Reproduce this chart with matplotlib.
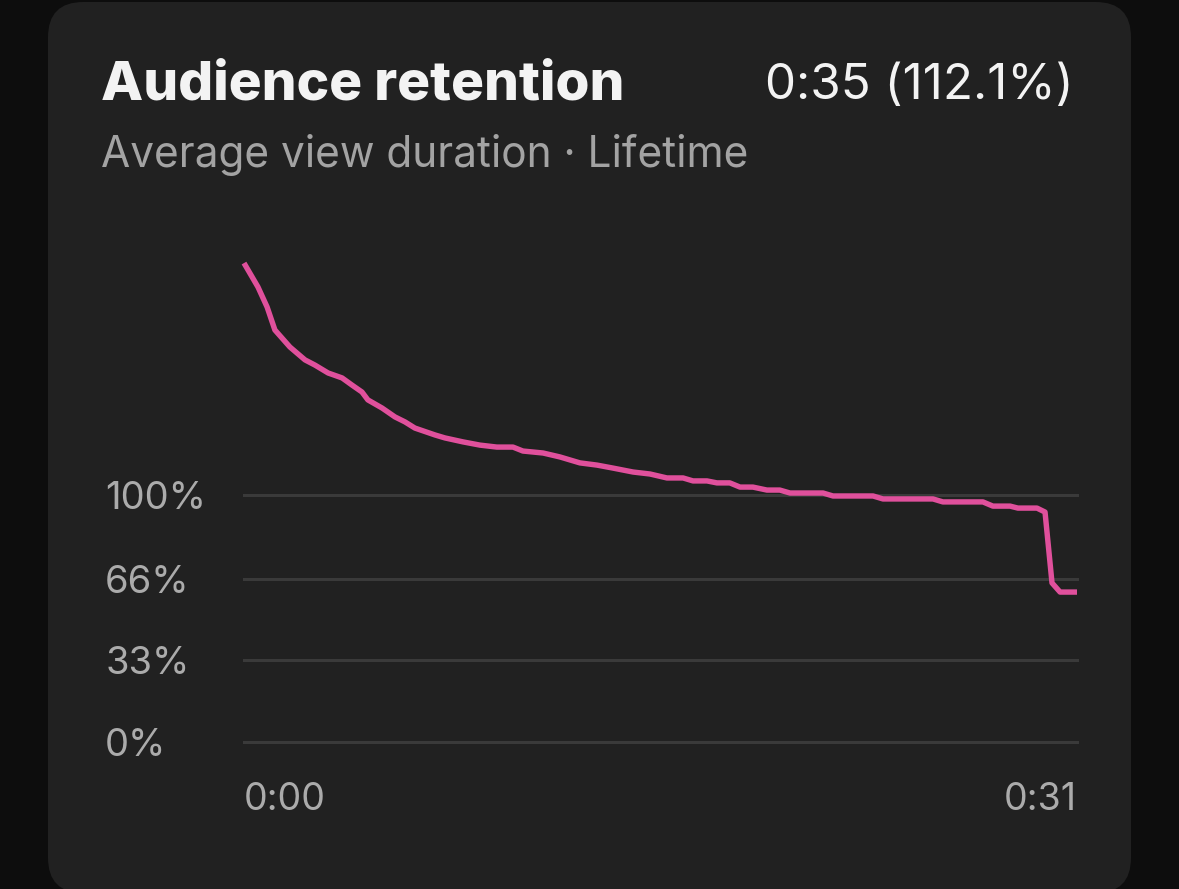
import matplotlib
matplotlib.use("Agg")
import matplotlib.pyplot as plt
from matplotlib.patches import FancyBboxPatch

# retention curve (seconds, % of viewers)
seconds = [0.00, 0.52, 0.86, 1.15, 1.71, 2.27, 2.64, 3.13, 3.65, 4.02, 4.39, 4.61,
           5.14, 5.62, 5.99, 6.36, 7.11, 7.48, 8.15, 8.78, 9.41, 10.01, 10.38, 11.13,
           11.76, 12.50, 13.14, 13.73, 14.48, 15.11, 15.74, 16.34, 16.71, 17.23, 17.60,
           18.08, 18.46, 18.94, 19.46, 19.94, 20.32, 21.55, 21.92, 23.41, 23.78, 25.64,
           26.01, 27.50, 27.87, 28.51, 28.80, 29.51, 29.81, 30.07, 30.37, 31.00]
retention = [193.9, 184.2, 176.1, 166.8, 159.9, 154.7, 152.6, 149.4, 147.4, 144.5, 141.7, 138.5,
             135.2, 131.6, 129.6, 127.1, 124.3, 123.1, 121.5, 120.2, 119.4, 119.4, 117.8, 117.0,
             115.4, 113.0, 112.1, 110.9, 109.3, 108.5, 106.9, 106.9, 105.7, 105.7, 104.9,
             104.9, 103.2, 103.2, 102.0, 102.0, 100.8, 100.8, 99.6, 99.6, 98.4, 98.4,
             97.2, 97.2, 95.5, 95.5, 94.7, 94.7, 93.1, 64.4, 60.7, 60.7]

y_ticks = [0, 33, 66, 100]
y_labels = ["0%", "33%", "66%", "100%"]
x_ticks = [0, 31]
x_labels = ["0:00", "0:31"]

title = "Audience retention"
subtitle = "Average view duration \u00b7 Lifetime"
summary = "0:35 (112.1%)"

W, H = 1179, 889
plt.rcParams["font.family"] = ["Inter", "DejaVu Sans"]

fig = plt.figure(figsize=(W / 100, H / 100), dpi=100)
fig.patch.set_facecolor("#0d0d0d")

card = FancyBboxPatch((48 / W, -4 / H), (1131 - 48) / W, (887 + 4) / H,
                      boxstyle="round,pad=0,rounding_size=0.03",
                      transform=fig.transFigure, facecolor="#212121",
                      edgecolor="none", mutation_aspect=W / H, zorder=-5)
fig.patches.append(card)

# axes box: x 244..1077 px, y 0% at 742 px, 200% at 248 px
ax = fig.add_axes([244 / W, (H - 742) / H, (1077 - 244) / W, (742 - 248) / H])
ax.set_zorder(2)
ax.set_facecolor("none")
ax.set_xlim(0, 31)
ax.set_ylim(0, 200)

for v in y_ticks:
    ax.axhline(v, color="#3a3a3a", lw=2.2, zorder=1, clip_on=False)

ax.plot(seconds, retention, color="#e0509c", lw=3.9, solid_joinstyle="round",
        solid_capstyle="butt", zorder=3, clip_on=False)

for s in ax.spines.values():
    s.set_visible(False)

ax.set_yticks(y_ticks)
ax.set_yticklabels(y_labels)
ax.tick_params(axis="y", length=0, pad=100, labelsize=27.5, labelcolor="#ababab")
for lbl in ax.get_yticklabels():
    lbl.set_ha("left")

ax.set_xticks(x_ticks)
ax.set_xticklabels(x_labels)
ax.tick_params(axis="x", length=0, pad=29, labelsize=27, labelcolor="#ababab")
xl = ax.get_xticklabels()
xl[0].set_ha("left")
xl[-1].set_ha("right")

fig.text(101 / W, 1 - 85 / H, title, fontsize=39.5, fontweight="heavy",
         color="#f3f3f3", va="center", ha="left")
fig.text(1074 / W, 1 - 86 / H, summary, fontsize=35.5, color="#f3f3f3",
         va="center", ha="right")
fig.text(101 / W, 1 - 155 / H, subtitle, fontsize=30.5, color="#a3a3a3",
         va="center", ha="left")

fig.savefig("out.png", dpi=100, facecolor=fig.get_facecolor())
